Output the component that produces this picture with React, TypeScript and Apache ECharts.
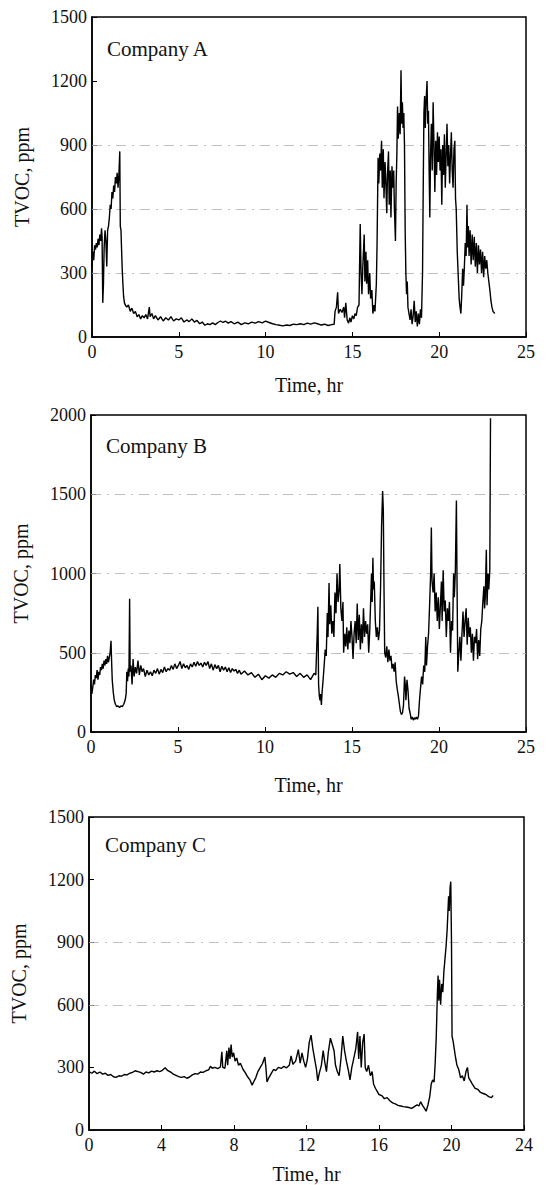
import React, { useEffect, useRef } from "react";
import * as echarts from "echarts";

// ---- Data: [time (hr), TVOC (ppm)] ----
const companyA: [number, number][] = [
  [0.0, 320], [0.05, 400], [0.1, 360], [0.15, 430], [0.2, 410], [0.25, 440], [0.3, 420], [0.35, 460], [0.4, 430], [0.45, 480],
  [0.5, 450], [0.55, 510], [0.58, 470], [0.62, 160], [0.66, 250], [0.7, 420], [0.75, 500], [0.8, 450], [0.85, 330], [0.9, 500],
  [0.95, 520], [1.0, 560], [1.05, 620], [1.1, 600], [1.15, 680], [1.2, 650], [1.25, 710], [1.3, 680], [1.35, 750], [1.4, 720],
  [1.45, 770], [1.5, 700], [1.55, 760], [1.6, 870], [1.63, 520], [1.67, 500], [1.7, 420], [1.74, 320], [1.78, 250], [1.82, 190],
  [1.87, 160], [1.92, 150], [2.0, 140], [2.1, 150], [2.2, 120], [2.3, 135], [2.4, 110], [2.5, 120], [2.6, 95], [2.7, 105],
  [2.8, 85], [2.9, 100], [3.0, 90], [3.1, 105], [3.2, 85], [3.3, 140], [3.35, 95], [3.45, 110], [3.55, 85], [3.65, 100],
  [3.8, 80], [3.95, 95], [4.1, 75], [4.25, 90], [4.4, 80], [4.55, 95], [4.7, 75], [4.85, 85], [5.0, 80], [5.15, 90],
  [5.3, 70], [5.45, 80], [5.6, 72], [5.75, 85], [5.9, 70], [6.05, 78], [6.2, 62], [6.35, 70], [6.5, 55], [6.65, 62],
  [6.8, 58], [6.95, 66], [7.1, 58], [7.25, 68], [7.4, 75], [7.55, 68], [7.7, 74], [7.85, 65], [8.0, 72], [8.2, 62],
  [8.4, 70], [8.6, 58], [8.8, 66], [9.0, 62], [9.2, 70], [9.4, 65], [9.6, 72], [9.8, 66], [10.0, 74], [10.2, 68],
  [10.4, 62], [10.6, 58], [10.8, 55], [11.0, 52], [11.2, 56], [11.4, 54], [11.6, 60], [11.8, 58], [12.0, 62], [12.2, 58],
  [12.4, 65], [12.6, 60], [12.8, 66], [13.0, 62], [13.2, 56], [13.4, 60], [13.6, 54], [13.8, 58], [13.95, 60], [14.0, 120],
  [14.08, 140], [14.15, 210], [14.2, 110], [14.3, 130], [14.4, 115], [14.5, 140], [14.55, 90], [14.62, 160], [14.7, 80], [14.78, 65],
  [14.85, 90], [14.92, 70], [15.0, 100], [15.08, 85], [15.15, 110], [15.22, 100], [15.3, 140], [15.38, 150], [15.45, 530], [15.5, 300],
  [15.55, 200], [15.6, 330], [15.68, 480], [15.72, 260], [15.78, 400], [15.82, 250], [15.88, 360], [15.93, 200], [16.0, 300], [16.05, 180],
  [16.12, 220], [16.18, 110], [16.25, 150], [16.3, 120], [16.38, 250], [16.42, 430], [16.48, 840], [16.52, 720], [16.58, 860], [16.62, 780],
  [16.68, 920], [16.72, 700], [16.78, 880], [16.82, 650], [16.88, 820], [16.92, 740], [16.98, 580], [17.02, 760], [17.08, 870], [17.12, 620],
  [17.18, 780], [17.22, 560], [17.28, 800], [17.32, 700], [17.38, 780], [17.42, 600], [17.48, 450], [17.52, 720], [17.56, 850], [17.6, 1080],
  [17.64, 930], [17.7, 1050], [17.75, 950], [17.8, 1250], [17.84, 1000], [17.88, 1100], [17.92, 980], [17.96, 1050], [18.0, 900], [18.04, 500],
  [18.08, 300], [18.12, 200], [18.16, 260], [18.2, 140], [18.26, 110], [18.32, 80], [18.38, 130], [18.44, 60], [18.5, 100], [18.56, 170],
  [18.62, 70], [18.68, 120], [18.74, 50], [18.8, 110], [18.86, 60], [18.92, 130], [18.98, 90], [19.04, 300], [19.08, 700], [19.12, 1050],
  [19.16, 1130], [19.2, 980], [19.24, 1100], [19.3, 1200], [19.34, 1000], [19.38, 1060], [19.42, 780], [19.46, 560], [19.5, 850], [19.55, 1000],
  [19.6, 780], [19.65, 1100], [19.7, 900], [19.75, 680], [19.8, 920], [19.85, 760], [19.9, 960], [19.95, 820], [20.0, 940], [20.05, 780],
  [20.1, 880], [20.15, 620], [20.2, 900], [20.25, 760], [20.3, 950], [20.35, 700], [20.4, 850], [20.45, 1000], [20.5, 800], [20.55, 900],
  [20.6, 720], [20.65, 850], [20.7, 960], [20.75, 780], [20.8, 700], [20.85, 880], [20.9, 920], [20.94, 650], [20.98, 600], [21.04, 400],
  [21.1, 280], [21.15, 180], [21.2, 140], [21.25, 110], [21.3, 200], [21.35, 320], [21.4, 240], [21.45, 330], [21.5, 440], [21.55, 380],
  [21.6, 620], [21.64, 420], [21.68, 520], [21.72, 380], [21.78, 500], [21.84, 340], [21.9, 480], [21.96, 360], [22.02, 470], [22.08, 330],
  [22.14, 440], [22.2, 300], [22.26, 430], [22.32, 340], [22.38, 410], [22.44, 300], [22.5, 400], [22.56, 280], [22.62, 380], [22.68, 320],
  [22.74, 360], [22.8, 300], [22.86, 260], [22.92, 220], [22.98, 170], [23.04, 140], [23.1, 120], [23.2, 110],
];

const companyB: [number, number][] = [
  [0.0, 300], [0.05, 240], [0.1, 280], [0.15, 330], [0.2, 300], [0.25, 360], [0.3, 340], [0.35, 390], [0.4, 330], [0.45, 380],
  [0.5, 360], [0.55, 410], [0.6, 390], [0.65, 430], [0.7, 400], [0.75, 450], [0.8, 420], [0.85, 460], [0.9, 430], [0.95, 480],
  [1.0, 440], [1.05, 470], [1.1, 500], [1.15, 575], [1.18, 460], [1.22, 330], [1.28, 250], [1.34, 200], [1.4, 175], [1.48, 160],
  [1.56, 165], [1.64, 155], [1.72, 165], [1.8, 160], [1.88, 175], [1.96, 200], [2.02, 240], [2.06, 380], [2.1, 320], [2.14, 400],
  [2.18, 350], [2.22, 840], [2.25, 380], [2.3, 420], [2.36, 300], [2.42, 460], [2.48, 350], [2.55, 410], [2.62, 370], [2.7, 450],
  [2.78, 360], [2.86, 420], [2.94, 380], [3.02, 400], [3.12, 350], [3.22, 390], [3.32, 360], [3.42, 380], [3.52, 355], [3.62, 390],
  [3.72, 370], [3.82, 400], [3.92, 365], [4.02, 395], [4.12, 375], [4.22, 410], [4.32, 380], [4.42, 400], [4.52, 390], [4.62, 420],
  [4.72, 395], [4.82, 430], [4.92, 400], [5.02, 420], [5.12, 445], [5.22, 400], [5.32, 430], [5.42, 405], [5.52, 420], [5.62, 395],
  [5.72, 430], [5.82, 410], [5.92, 440], [6.02, 415], [6.12, 445], [6.22, 420], [6.32, 435], [6.42, 410], [6.52, 440], [6.62, 420],
  [6.72, 445], [6.82, 400], [6.92, 430], [7.02, 390], [7.12, 425], [7.22, 400], [7.32, 420], [7.42, 380], [7.52, 415], [7.62, 390],
  [7.72, 410], [7.82, 380], [7.92, 405], [8.02, 375], [8.12, 400], [8.22, 385], [8.32, 395], [8.42, 370], [8.52, 390], [8.62, 365],
  [8.82, 385], [9.02, 360], [9.22, 375], [9.42, 345], [9.62, 365], [9.82, 330], [10.02, 355], [10.22, 340], [10.42, 360], [10.62, 345],
  [10.82, 370], [11.02, 360], [11.22, 380], [11.42, 365], [11.62, 375], [11.82, 350], [12.02, 370], [12.22, 345], [12.42, 360], [12.62, 330],
  [12.82, 370], [12.92, 360], [13.0, 620], [13.04, 790], [13.08, 300], [13.12, 230], [13.16, 200], [13.2, 240], [13.24, 170], [13.28, 250],
  [13.34, 330], [13.4, 420], [13.46, 520], [13.52, 480], [13.58, 750], [13.62, 600], [13.68, 940], [13.72, 680], [13.78, 800], [13.84, 620],
  [13.9, 700], [13.96, 600], [14.02, 880], [14.08, 750], [14.14, 1000], [14.2, 820], [14.26, 900], [14.3, 1060], [14.36, 780], [14.42, 700],
  [14.48, 820], [14.52, 500], [14.58, 620], [14.64, 540], [14.7, 660], [14.76, 520], [14.82, 640], [14.88, 560], [14.94, 700], [15.0, 600],
  [15.06, 460], [15.12, 620], [15.18, 700], [15.24, 560], [15.3, 810], [15.36, 580], [15.42, 740], [15.48, 520], [15.54, 680], [15.6, 560],
  [15.66, 780], [15.72, 600], [15.78, 700], [15.84, 620], [15.9, 680], [15.96, 500], [16.02, 640], [16.08, 850], [16.12, 1000], [16.16, 820],
  [16.2, 1100], [16.24, 900], [16.28, 950], [16.34, 700], [16.4, 600], [16.46, 660], [16.52, 580], [16.58, 640], [16.64, 900], [16.7, 1300],
  [16.76, 1520], [16.8, 1400], [16.84, 900], [16.88, 500], [16.94, 470], [17.0, 540], [17.06, 440], [17.12, 520], [17.18, 450], [17.24, 480],
  [17.3, 400], [17.36, 430], [17.42, 380], [17.48, 440], [17.54, 320], [17.6, 270], [17.66, 230], [17.72, 180], [17.78, 130], [17.84, 110],
  [17.9, 120], [17.96, 170], [18.02, 350], [18.06, 300], [18.1, 200], [18.16, 330], [18.22, 260], [18.28, 150], [18.34, 120], [18.4, 80],
  [18.46, 95], [18.52, 75], [18.58, 90], [18.64, 80], [18.7, 95], [18.76, 80], [18.82, 100], [18.88, 200], [18.94, 280], [19.0, 350],
  [19.06, 300], [19.12, 420], [19.18, 380], [19.24, 600], [19.28, 420], [19.34, 540], [19.4, 620], [19.46, 800], [19.52, 1000], [19.56, 1290],
  [19.6, 950], [19.66, 880], [19.72, 1000], [19.78, 760], [19.84, 880], [19.9, 700], [19.96, 850], [20.02, 650], [20.08, 800], [20.14, 950],
  [20.18, 700], [20.24, 1020], [20.3, 760], [20.36, 830], [20.42, 600], [20.48, 780], [20.54, 700], [20.6, 820], [20.66, 500], [20.72, 700],
  [20.78, 640], [20.84, 1000], [20.88, 850], [20.94, 1020], [21.0, 1460], [21.04, 900], [21.08, 380], [21.14, 500], [21.2, 600], [21.26, 450],
  [21.32, 620], [21.38, 760], [21.44, 600], [21.5, 700], [21.56, 780], [21.62, 550], [21.68, 720], [21.74, 600], [21.8, 660], [21.86, 500],
  [21.92, 620], [21.98, 450], [22.04, 600], [22.1, 560], [22.16, 650], [22.22, 460], [22.28, 580], [22.34, 480], [22.4, 650], [22.46, 700],
  [22.52, 820], [22.58, 920], [22.62, 780], [22.66, 850], [22.72, 1150], [22.76, 800], [22.82, 1000], [22.86, 900], [22.92, 1020], [22.96, 1980],
];

const companyC: [number, number][] = [
  [0, 280], [0.15, 272], [0.3, 282], [0.45, 270], [0.6, 278], [0.75, 268], [0.9, 272], [1.05, 262], [1.2, 266], [1.35, 255],
  [1.5, 252], [1.65, 260], [1.8, 258], [1.95, 266], [2.1, 264], [2.25, 272], [2.4, 276], [2.55, 284], [2.7, 280], [2.85, 276],
  [3.0, 268], [3.15, 278], [3.3, 274], [3.45, 282], [3.6, 278], [3.75, 284], [3.9, 280], [4.05, 286], [4.2, 298], [4.35, 284],
  [4.5, 278], [4.65, 268], [4.8, 262], [4.95, 256], [5.1, 252], [5.25, 256], [5.4, 248], [5.55, 254], [5.7, 264], [5.85, 270],
  [6.0, 268], [6.15, 278], [6.3, 276], [6.45, 284], [6.6, 288], [6.7, 305], [6.8, 296], [6.95, 300], [7.1, 294], [7.25, 302],
  [7.33, 375], [7.38, 300], [7.5, 296], [7.6, 380], [7.65, 310], [7.72, 395], [7.78, 340], [7.84, 410], [7.9, 350], [7.98, 370],
  [8.06, 330], [8.15, 345], [8.25, 310], [8.35, 320], [8.5, 290], [8.62, 275], [8.75, 255], [8.88, 240], [9.0, 215], [9.08, 230],
  [9.2, 250], [9.32, 280], [9.45, 300], [9.58, 320], [9.7, 350], [9.76, 300], [9.82, 230], [9.92, 250], [10.05, 270], [10.18, 290],
  [10.3, 285], [10.45, 300], [10.6, 295], [10.75, 305], [10.9, 298], [11.05, 310], [11.15, 355], [11.25, 315], [11.4, 330], [11.55, 385],
  [11.65, 320], [11.75, 370], [11.85, 330], [11.95, 300], [12.05, 340], [12.15, 420], [12.25, 455], [12.35, 390], [12.45, 340], [12.55, 290],
  [12.62, 235], [12.7, 270], [12.82, 310], [12.92, 380], [13.0, 330], [13.1, 280], [13.2, 370], [13.32, 440], [13.42, 410], [13.52, 380],
  [13.6, 310], [13.7, 280], [13.8, 260], [13.9, 340], [14.0, 450], [14.1, 380], [14.2, 330], [14.3, 290], [14.4, 240], [14.5, 300],
  [14.6, 340], [14.72, 390], [14.82, 470], [14.88, 340], [14.95, 450], [15.02, 300], [15.1, 420], [15.18, 460], [15.24, 300], [15.32, 280],
  [15.42, 310], [15.52, 260], [15.62, 280], [15.7, 220], [15.8, 200], [15.9, 185], [16.0, 170], [16.15, 165], [16.3, 150], [16.45, 155],
  [16.6, 140], [16.75, 130], [16.9, 125], [17.05, 118], [17.2, 115], [17.35, 112], [17.5, 110], [17.65, 108], [17.8, 104], [17.95, 112],
  [18.1, 120], [18.2, 115], [18.3, 135], [18.4, 118], [18.5, 105], [18.6, 90], [18.7, 120], [18.8, 160], [18.88, 220], [18.96, 240],
  [19.04, 230], [19.1, 320], [19.16, 450], [19.22, 650], [19.26, 740], [19.3, 620], [19.34, 720], [19.4, 600], [19.46, 700], [19.52, 660],
  [19.58, 760], [19.64, 820], [19.7, 880], [19.76, 960], [19.8, 1040], [19.84, 1120], [19.88, 1050], [19.92, 1160], [19.96, 1190], [20.0, 900],
  [20.03, 450], [20.1, 420], [20.2, 360], [20.3, 310], [20.4, 290], [20.5, 250], [20.6, 260], [20.7, 235], [20.8, 280], [20.88, 300],
  [20.95, 250], [21.05, 235], [21.15, 220], [21.3, 200], [21.45, 195], [21.6, 180], [21.75, 175], [21.9, 170], [22.05, 160], [22.2, 155],
  [22.3, 165],
];

const panelTitles = ["Company A", "Company B", "Company C"];
const xMax = [25, 25, 24];
const xInterval = [5, 5, 4];
const yMax = [1500, 2000, 1500];
const yInterval = [300, 500, 300];
const gridLevels = [
  [300, 600, 900],
  [500, 1000, 1500],
  [600, 900],
];

const FONT = "Liberation Serif";

export default function App() {
  const ref = useRef<HTMLDivElement>(null);

  useEffect(() => {
    if (!ref.current) return;
    const chart = echarts.init(ref.current, undefined, { renderer: "svg" });

    const grids = [
      { left: 92, top: 17, width: 434, height: 320 },
      { left: 91, top: 415, width: 435, height: 317 },
      { left: 89, top: 817, width: 435, height: 316 },
    ];
    const xNameGaps = [38, 43, 34];
    const titleY = [50, 447, 846];
    const titleX = [107, 106, 105];
    const seriesData = [companyA, companyB, companyC];

    const axisLine = { show: true, onZero: false, lineStyle: { color: "#000", width: 1.5 } };
    const axisTick = { show: true, inside: true, length: 5, lineStyle: { color: "#000", width: 1 } };
    const labelFmt = (v: number) => String(v);

    chart.setOption({
      animation: false,
      backgroundColor: "#fff",
      grid: grids.map((g) => ({
        ...g,
        show: true,
        borderColor: "#000",
        borderWidth: 1.5,
        backgroundColor: "transparent",
      })),
      xAxis: grids.map((_, i) => ({
        type: "value",
        gridIndex: i,
        min: 0,
        max: xMax[i],
        interval: xInterval[i],
        name: "Time, hr",
        nameLocation: "middle",
        nameGap: xNameGaps[i],
        nameTextStyle: { fontFamily: FONT, fontSize: 20, color: "#111" },
        axisLine,
        axisTick,
        axisLabel: { fontFamily: FONT, fontSize: 18, color: "#111", margin: 6, formatter: labelFmt },
        splitLine: { show: false },
      })),
      yAxis: grids.map((_, i) => ({
        type: "value",
        gridIndex: i,
        min: 0,
        max: yMax[i],
        interval: yInterval[i],
        name: "TVOC, ppm",
        nameLocation: "middle",
        nameGap: 60,
        nameTextStyle: { fontFamily: FONT, fontSize: 20, color: "#111" },
        axisLine,
        axisTick,
        axisLabel: { fontFamily: FONT, fontSize: 18, color: "#111", margin: 5, formatter: labelFmt },
        splitLine: { show: false },
      })),
      series: seriesData.map((d, i) => ({
        type: "line",
        xAxisIndex: i,
        yAxisIndex: i,
        data: d,
        showSymbol: false,
        symbol: "none",
        lineStyle: { color: "#000", width: 1.4 },
        z: 3,
        markLine: {
          silent: true,
          symbol: ["none", "none"],
          label: { show: false },
          lineStyle: { color: "#b0b0b0", width: 0.8, type: [10, 6, 2, 6] },
          data: gridLevels[i].map((v) => ({ yAxis: v })),
          z: 1,
        },
      })),
      graphic: panelTitles.map((t, i) => ({
        type: "text",
        left: titleX[i],
        top: titleY[i] - 12,
        style: { text: t, fontFamily: FONT, fontSize: 21, fill: "#111" },
      })),
    });

    return () => chart.dispose();
  }, []);

  return (
    <div
      ref={ref}
      style={{ position: "absolute", left: 0, top: 0, width: 548, height: 1185, background: "#fff" }}
    />
  );
}
